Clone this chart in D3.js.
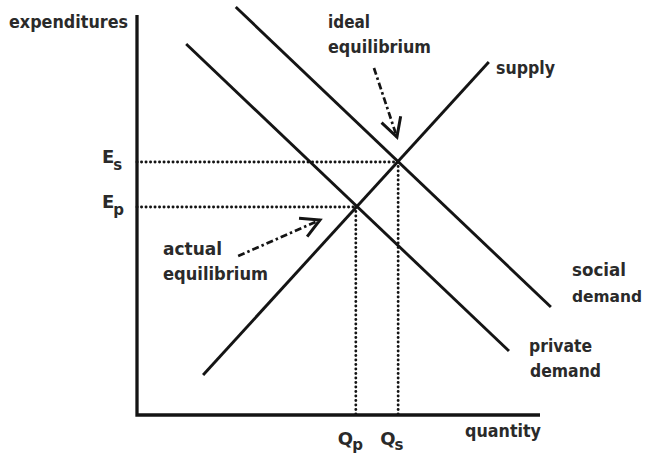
<!DOCTYPE html>
<html>
<head>
<meta charset="utf-8">
<script src="https://cdn.jsdelivr.net/npm/d3@7"></script>
<style>
  html, body { margin: 0; padding: 0; background: #fff; }
  svg { display: block; }
  text { font-family: "DejaVu Sans", "Liberation Sans", Arial, sans-serif; font-weight: bold; fill: #2a2a2a; }
</style>
</head>
<body>
<svg id="chart" width="647" height="453"></svg>
<script>
// ---- data (in abstract units 0..100) ----
const supplyQ  = [16.4, 87.3];
const supplyP  = [10, 88.25];
const socialQ  = [24.5, 102.7];
const socialP  = [102, 27];
const privateQ = [12.2, 92.3];
const privateP = [92.75, 16];
const idealEq  = { q: 64.8, p: 63.25 };
const actualEq = { q: 54.3, p: 52 };
const idealArrowQ  = [58.8, 64.5];
const idealArrowP  = [86.75, 69.5];
const actualArrowQ = [25.1, 45.4];
const actualArrowP = [39.75, 48.75];
const yAxisTitle = "expenditures";
const xAxisTitle = "quantity";
const yTickLabels = [["E", "s"], ["E", "p"]];
const xTickLabels = [["Q", "p"], ["Q", "s"]];

// ---- drawing ----
const svg = d3.select("#chart");
const x = d3.scaleLinear().domain([0, 100]).range([137, 540]);
const y = d3.scaleLinear().domain([0, 100]).range([415, 15]);
const ink = "#141414";

const line = d3.line().x(d => x(d[0])).y(d => y(d[1]));
const pts = (qs, ps) => qs.map((q, i) => [q, ps[i]]);

// dotted guides
[idealEq, actualEq].forEach(eq => {
  [[[0, eq.p], [eq.q, eq.p]], [[eq.q, eq.p], [eq.q, 0]]].forEach(seg => {
    svg.append("path")
      .attr("d", line(seg))
      .attr("stroke", ink).attr("stroke-width", 2.9)
      .attr("stroke-linecap", "round")
      .attr("stroke-dasharray", "0.1,4.4").attr("fill", "none");
  });
});

// curves
[[supplyQ, supplyP], [socialQ, socialP], [privateQ, privateP]].forEach(([qs, ps]) => {
  svg.append("path")
    .attr("d", line(pts(qs, ps)))
    .attr("stroke", ink).attr("stroke-width", 2.9).attr("fill", "none");
});

// axes
svg.append("path")
  .attr("d", `M${x(0)},${y(100)} V${y(0)} H${x(100)}`)
  .attr("stroke", ink).attr("stroke-width", 3.3).attr("fill", "none")
  .attr("stroke-linejoin", "miter");

// arrows
function arrow(qs, ps) {
  const a = pts(qs, ps);
  svg.append("path")
    .attr("d", line(a))
    .attr("stroke", ink).attr("stroke-width", 2.7)
    .attr("stroke-dasharray", "7,3,2.5,3").attr("fill", "none");
  const x0 = x(a[0][0]), y0 = y(a[0][1]), x1 = x(a[1][0]), y1 = y(a[1][1]);
  const ang = Math.atan2(y1 - y0, x1 - x0);
  const L = 21, spread = 0.5;
  const p1 = [x1 - L * Math.cos(ang - spread), y1 - L * Math.sin(ang - spread)];
  const p2 = [x1 - L * Math.cos(ang + spread), y1 - L * Math.sin(ang + spread)];
  svg.append("path")
    .attr("d", `M${p1[0]},${p1[1]} L${x1},${y1} L${p2[0]},${p2[1]}`)
    .attr("stroke", ink).attr("stroke-width", 3).attr("fill", "none")
    .attr("stroke-linejoin", "miter");
}
arrow(idealArrowQ, idealArrowP);
arrow(actualArrowQ, actualArrowP);

// labels
function label(txt, px, py, w, size = 18) {
  const t = svg.append("text").attr("x", px).attr("y", py)
    .attr("font-size", size).text(txt);
  if (w) t.attr("textLength", w).attr("lengthAdjust", "spacingAndGlyphs");
  return t;
}
label(yAxisTitle, 9, 28, 119);
label(xAxisTitle, 465, 437, 76);
label("ideal", 328, 28, 42);
label("equilibrium", 328, 53, 103);
label("supply", 496, 74, 59);
label("actual", 163, 255, 59);
label("equilibrium", 163, 280, 105);
label("social", 572, 276, 54);
label("demand", 572, 302, 70, 16);
label("private", 529, 352, 63);
label("demand", 530, 377, 71);

// axis "tick" labels with subscripts
[idealEq, actualEq].forEach((eq, i) => {
  const t = svg.append("text").attr("x", 102).attr("y", y(eq.p) + 1).attr("font-size", 18);
  t.append("tspan").text(yTickLabels[i][0]);
  t.append("tspan").attr("dy", 7).attr("dx", -1).attr("font-size", 15).text(yTickLabels[i][1]);
});
[actualEq, idealEq].forEach((eq, i) => {
  const t = svg.append("text").attr("x", x(eq.q) - 18).attr("y", 445).attr("font-size", 18);
  t.append("tspan").text(xTickLabels[i][0]);
  t.append("tspan").attr("dy", 5).attr("dx", -1).attr("font-size", 15).text(xTickLabels[i][1]);
});
</script>
</body>
</html>
